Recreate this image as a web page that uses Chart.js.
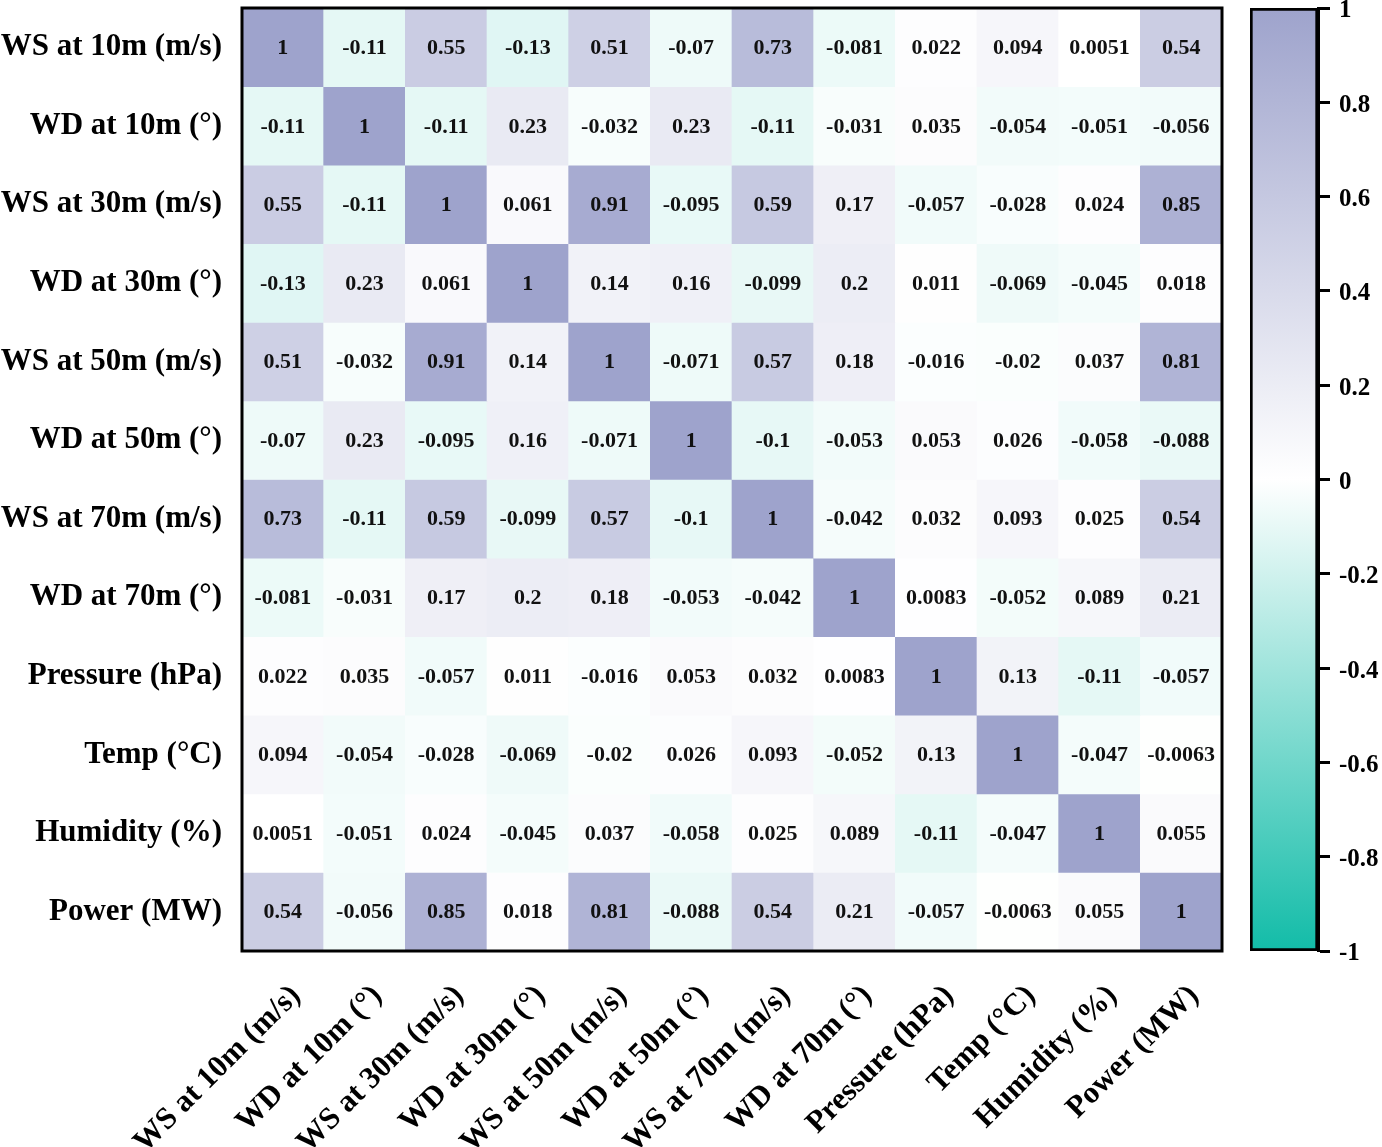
<!DOCTYPE html>
<html lang="en">
<head>
    <meta charset="UTF-8">
    <title>Correlation heatmap</title>
    <script src="https://cdn.jsdelivr.net/npm/chart.js"></script>
    <style>
        html, body { margin: 0; padding: 0; background: #fff; }
        #wrap { position: relative; width: 1382px; height: 1147px; }
        #heatBox { position: absolute; left: 0; top: 0; width: 1235px; height: 1147px; }
        #barBox { position: absolute; left: 1230px; top: 0; width: 152px; height: 1147px; }
    </style>
</head>
<body>
<div id="wrap">
    <div id="heatBox"><canvas id="heatCanvas"></canvas></div>
    <div id="barBox"><canvas id="barCanvas"></canvas></div>
</div>
<script>
    const names = ['WS at 10m (m/s)', 'WD at 10m (°)', 'WS at 30m (m/s)', 'WD at 30m (°)',
        'WS at 50m (m/s)', 'WD at 50m (°)', 'WS at 70m (m/s)', 'WD at 70m (°)',
        'Pressure (hPa)', 'Temp (°C)', 'Humidity (%)', 'Power (MW)'];

    // one row of the correlation matrix per variable
    const rowWS10  = [1, -0.11, 0.55, -0.13, 0.51, -0.07, 0.73, -0.081, 0.022, 0.094, 0.0051, 0.54];
    const rowWD10  = [-0.11, 1, -0.11, 0.23, -0.032, 0.23, -0.11, -0.031, 0.035, -0.054, -0.051, -0.056];
    const rowWS30  = [0.55, -0.11, 1, 0.061, 0.91, -0.095, 0.59, 0.17, -0.057, -0.028, 0.024, 0.85];
    const rowWD30  = [-0.13, 0.23, 0.061, 1, 0.14, 0.16, -0.099, 0.2, 0.011, -0.069, -0.045, 0.018];
    const rowWS50  = [0.51, -0.032, 0.91, 0.14, 1, -0.071, 0.57, 0.18, -0.016, -0.02, 0.037, 0.81];
    const rowWD50  = [-0.07, 0.23, -0.095, 0.16, -0.071, 1, -0.1, -0.053, 0.053, 0.026, -0.058, -0.088];
    const rowWS70  = [0.73, -0.11, 0.59, -0.099, 0.57, -0.1, 1, -0.042, 0.032, 0.093, 0.025, 0.54];
    const rowWD70  = [-0.081, -0.031, 0.17, 0.2, 0.18, -0.053, -0.042, 1, 0.0083, -0.052, 0.089, 0.21];
    const rowPress = [0.022, 0.035, -0.057, 0.011, -0.016, 0.053, 0.032, 0.0083, 1, 0.13, -0.11, -0.057];
    const rowTemp  = [0.094, -0.054, -0.028, -0.069, -0.02, 0.026, 0.093, -0.052, 0.13, 1, -0.047, -0.0063];
    const rowHum   = [0.0051, -0.051, 0.024, -0.045, 0.037, -0.058, 0.025, 0.089, -0.11, -0.047, 1, 0.055];
    const rowPower = [0.54, -0.056, 0.85, 0.018, 0.81, -0.088, 0.54, 0.21, -0.057, -0.0063, 0.055, 1];

    const matrix = [rowWS10, rowWD10, rowWS30, rowWD30, rowWS50, rowWD50,
        rowWS70, rowWD70, rowPress, rowTemp, rowHum, rowPower];

    const barTicks = [-1, -0.8, -0.6, -0.4, -0.2, 0, 0.2, 0.4, 0.6, 0.8, 1];

    const posColor = [158, 163, 204];
    const negColor = [18, 188, 168];
    const serif = 'Liberation Serif';

    function colorFor(v) {
        const c = v >= 0 ? posColor : negColor;
        const t = Math.min(1, Math.abs(v));
        const mix = c.map(ch => Math.round(255 + (ch - 255) * t));
        return `rgb(${mix[0]},${mix[1]},${mix[2]})`;
    }

    const n = names.length;

    // each row is a dataset of floating bars spanning one unit of the y scale
    const datasets = matrix.map((row, r) => ({
        data: row.map(() => [n - 1 - r, n - r]),
        backgroundColor: row.map(colorFor),
        borderWidth: 0,
        grouped: false,
        barPercentage: 1,
        categoryPercentage: 1
    }));

    const cellText = {
        id: 'cellText',
        afterDatasetsDraw(chart) {
            const { ctx, scales: { x, y } } = chart;
            ctx.save();
            ctx.font = `bold 22px "${serif}"`;
            ctx.fillStyle = '#111';
            ctx.textAlign = 'center';
            ctx.textBaseline = 'middle';
            matrix.forEach((row, r) => {
                row.forEach((v, c) => {
                    ctx.fillText(String(v), x.getPixelForValue(c), y.getPixelForValue(n - 0.5 - r) + 1);
                });
            });
            ctx.restore();
        }
    };

    const frame = {
        id: 'frame',
        afterDraw(chart) {
            const { ctx, chartArea: a } = chart;
            ctx.save();
            ctx.lineWidth = 3;
            ctx.strokeStyle = '#000';
            ctx.strokeRect(a.left, a.top, a.right - a.left, a.bottom - a.top);
            ctx.restore();
        }
    };

    new Chart(document.getElementById('heatCanvas'), {
        type: 'bar',
        data: { labels: names, datasets: datasets },
        plugins: [cellText, frame],
        options: {
            responsive: true,
            maintainAspectRatio: false,
            animation: false,
            layout: { padding: { top: 8, right: 13, left: 0, bottom: 0 } },
            plugins: { legend: { display: false }, tooltip: { enabled: false } },
            scales: {
                x: {
                    type: 'category',
                    grid: { display: false, drawTicks: false },
                    border: { display: false },
                    ticks: {
                        autoSkip: false, minRotation: 45, maxRotation: 45, padding: 27, labelOffset: 13,
                        color: '#000', font: { family: serif, size: 31, weight: 'bold' }
                    },
                    afterFit(s) { s.height = 196; s.paddingLeft = 0; s.paddingRight = 0; }
                },
                y: {
                    type: 'linear', min: 0, max: n,
                    grid: { display: false, drawTicks: false },
                    border: { display: false },
                    afterBuildTicks(s) { s.ticks = names.map((_, i) => ({ value: n - 0.5 - i })); },
                    ticks: {
                        padding: 20, color: '#000',
                        font: { family: serif, size: 31, weight: 'bold' },
                        callback: v => names[Math.round(n - 0.5 - v)]
                    },
                    afterFit(s) { s.width = 242; s.paddingTop = 0; s.paddingBottom = 0; }
                }
            }
        }
    });

    // colour bar
    new Chart(document.getElementById('barCanvas'), {
        type: 'bar',
        data: {
            labels: [''],
            datasets: [{
                data: [[-1, 1]],
                barPercentage: 1,
                categoryPercentage: 1,
                borderWidth: 3,
                borderColor: '#000',
                borderSkipped: false,
                backgroundColor(ctx) {
                    const a = ctx.chart.chartArea;
                    if (!a) return '#fff';
                    const g = ctx.chart.ctx.createLinearGradient(0, a.top, 0, a.bottom);
                    g.addColorStop(0, colorFor(1));
                    g.addColorStop(0.5, colorFor(0));
                    g.addColorStop(1, colorFor(-1));
                    return g;
                }
            }]
        },
        options: {
            responsive: true,
            maintainAspectRatio: false,
            animation: false,
            layout: { padding: { top: 8, left: 20, right: 0, bottom: 196 } },
            plugins: { legend: { display: false }, tooltip: { enabled: false } },
            scales: {
                x: { display: false },
                y: {
                    type: 'linear', position: 'right', min: -1, max: 1,
                    grid: { drawOnChartArea: false, drawTicks: true, tickLength: 12, tickWidth: 3, tickColor: '#000' },
                    border: { display: true, width: 3, color: '#000' },
                    afterBuildTicks(s) { s.ticks = barTicks.map(v => ({ value: v })); },
                    ticks: {
                        padding: 9, labelOffset: 3, color: '#000',
                        font: { family: serif, size: 25, weight: 'bold' },
                        callback: v => String(v)
                    },
                    afterFit(s) { s.width = 64; s.paddingTop = 0; s.paddingBottom = 0; }
                }
            }
        }
    });
</script>
</body>
</html>
